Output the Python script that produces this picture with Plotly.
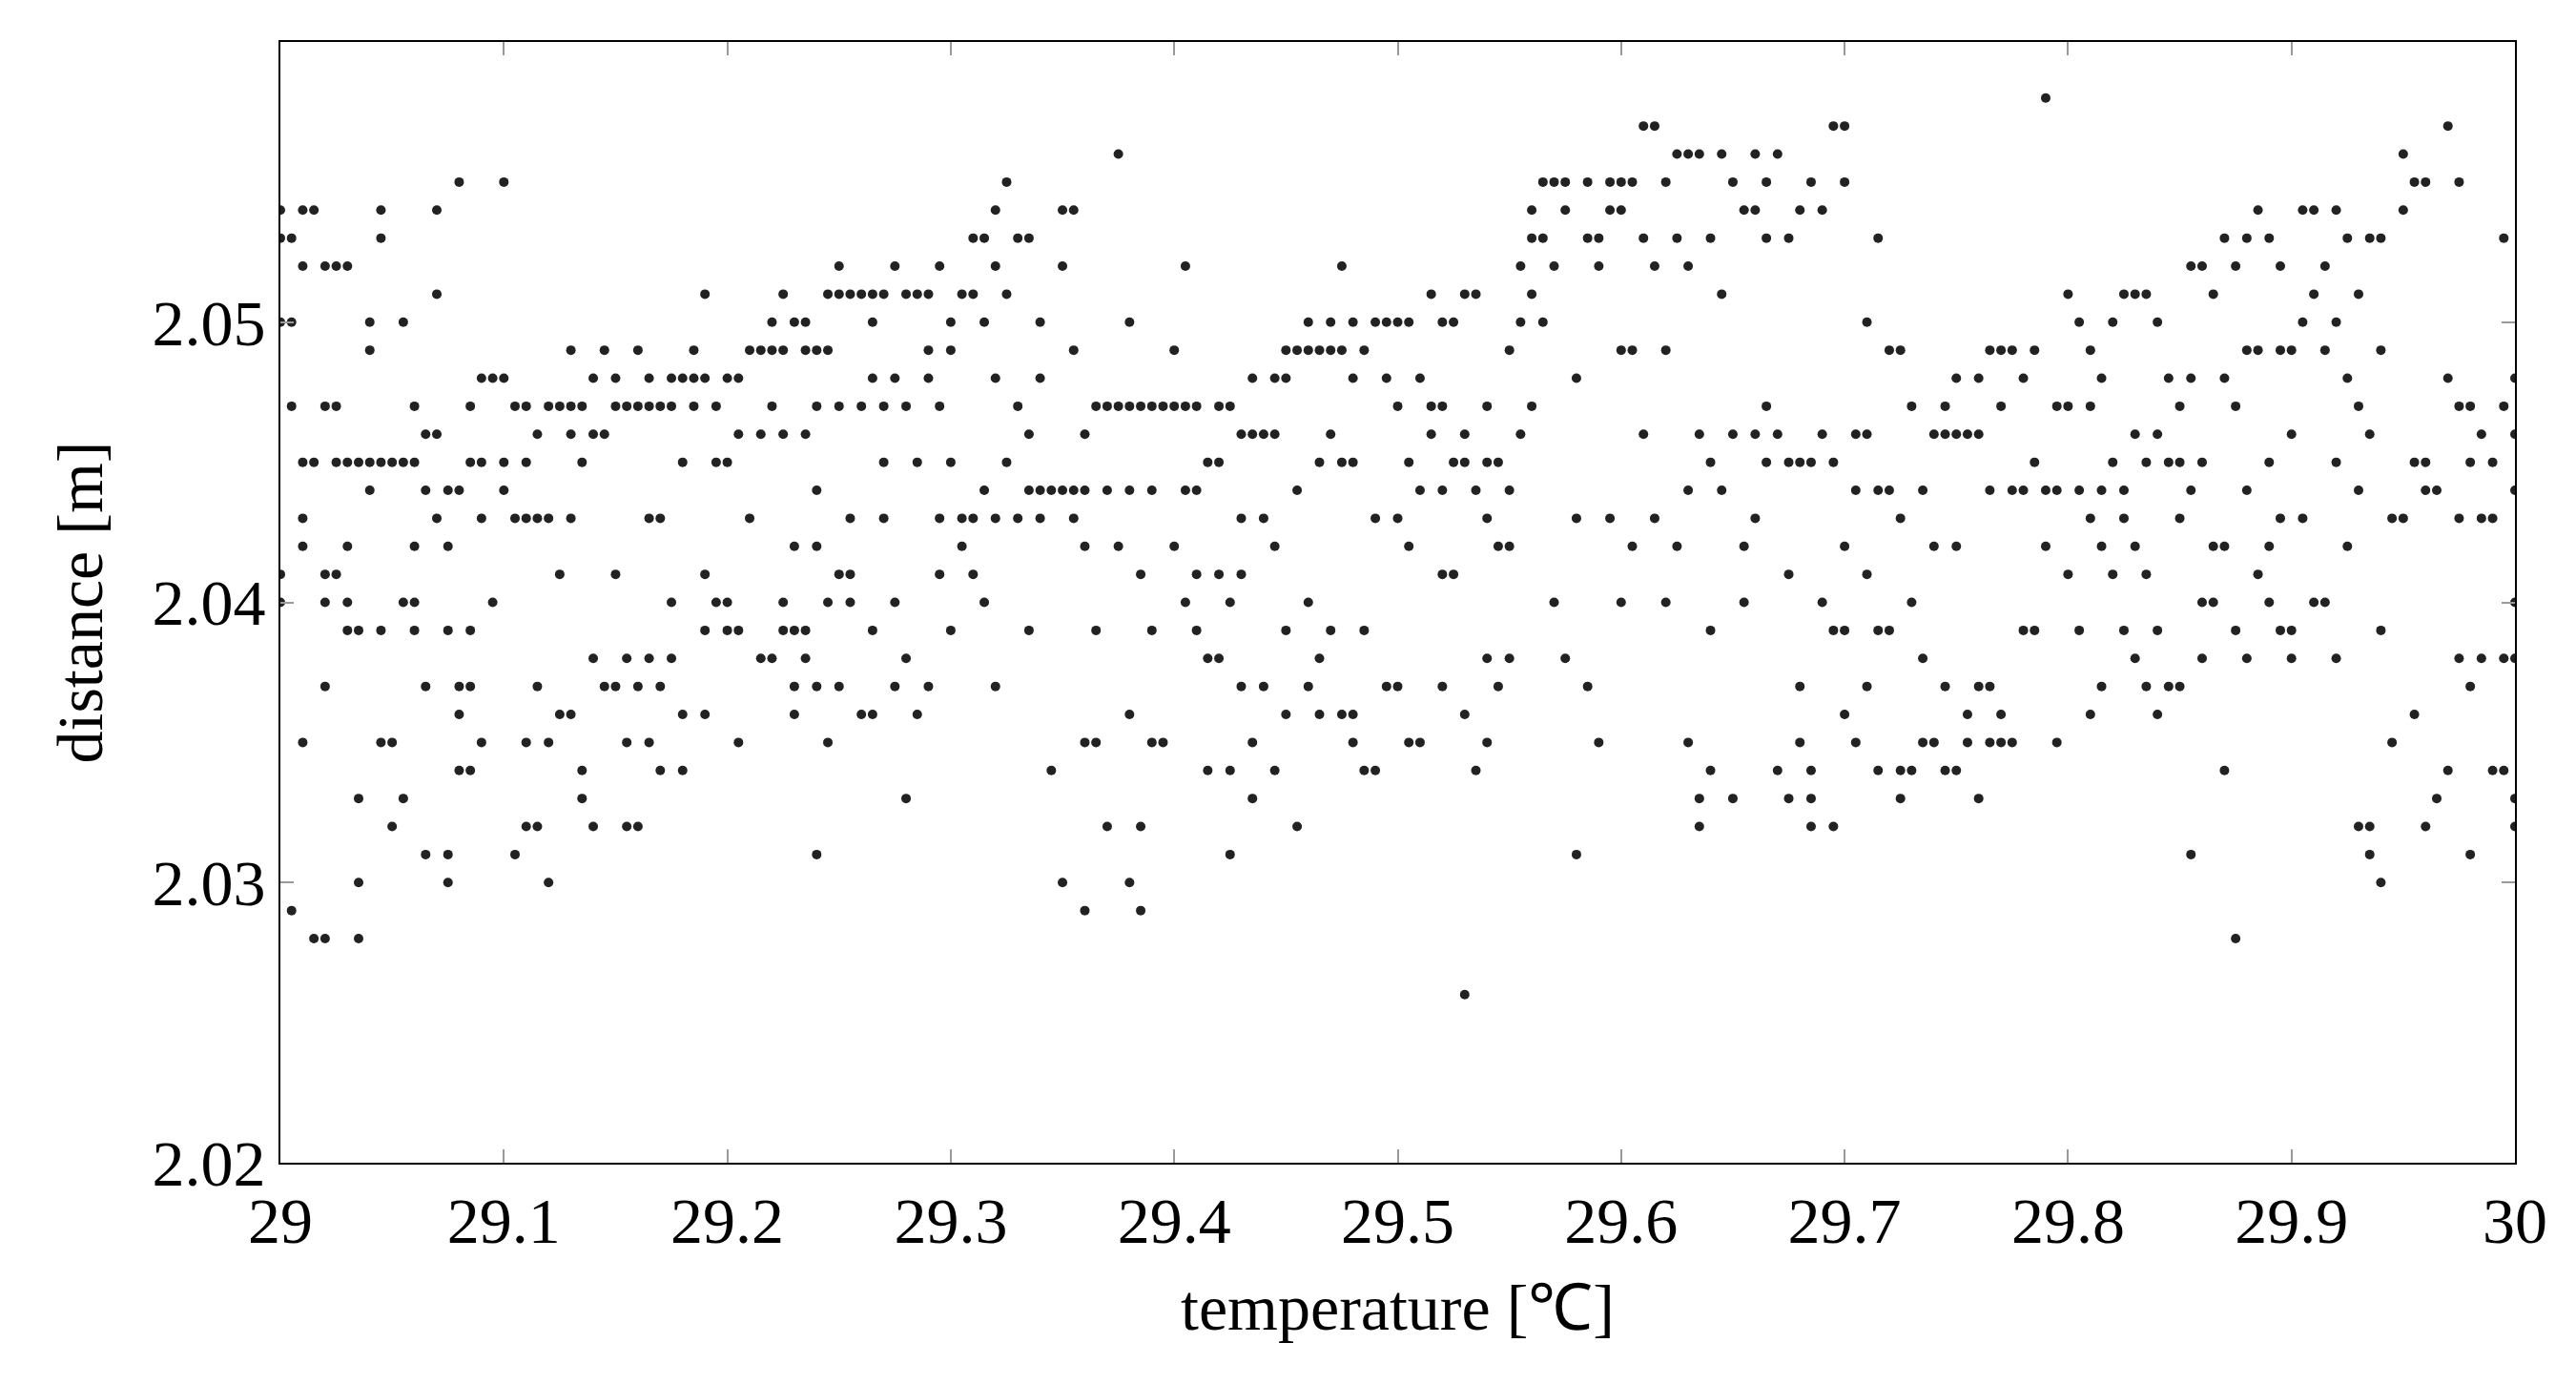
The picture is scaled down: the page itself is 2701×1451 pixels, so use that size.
import plotly.graph_objects as go

# temperature readings (degC); each has a group of distance readings (m)
temps = [29.000, 29.005, 29.010, 29.015, 29.020, 29.025, 29.030, 29.035, 29.040, 29.045,
         29.050, 29.055, 29.060, 29.065, 29.070, 29.075, 29.080, 29.085, 29.090, 29.095,
         29.100, 29.105, 29.110, 29.115, 29.120, 29.125, 29.130, 29.135, 29.140, 29.145,
         29.150, 29.155, 29.160, 29.165, 29.170, 29.175, 29.180, 29.185, 29.190, 29.195,
         29.200, 29.205, 29.210, 29.215, 29.220, 29.225, 29.230, 29.235, 29.240, 29.245,
         29.250, 29.255, 29.260, 29.265, 29.270, 29.275, 29.280, 29.285, 29.290, 29.295,
         29.300, 29.305, 29.310, 29.315, 29.320, 29.325, 29.330, 29.335, 29.340, 29.345,
         29.350, 29.355, 29.360, 29.365, 29.370, 29.375, 29.380, 29.385, 29.390, 29.395,
         29.400, 29.405, 29.410, 29.415, 29.420, 29.425, 29.430, 29.435, 29.440, 29.445,
         29.450, 29.455, 29.460, 29.465, 29.470, 29.475, 29.480, 29.485, 29.490, 29.495,
         29.500, 29.505, 29.510, 29.515, 29.520, 29.525, 29.530, 29.535, 29.540, 29.545,
         29.550, 29.555, 29.560, 29.565, 29.570, 29.575, 29.580, 29.585, 29.590, 29.595,
         29.600, 29.605, 29.610, 29.615, 29.620, 29.625, 29.630, 29.635, 29.640, 29.645,
         29.650, 29.655, 29.660, 29.665, 29.670, 29.675, 29.680, 29.685, 29.690, 29.695,
         29.700, 29.705, 29.710, 29.715, 29.720, 29.725, 29.730, 29.735, 29.740, 29.745,
         29.750, 29.755, 29.760, 29.765, 29.770, 29.775, 29.780, 29.785, 29.790, 29.795,
         29.800, 29.805, 29.810, 29.815, 29.820, 29.825, 29.830, 29.835, 29.840, 29.845,
         29.850, 29.855, 29.860, 29.865, 29.870, 29.875, 29.880, 29.885, 29.890, 29.895,
         29.900, 29.905, 29.910, 29.915, 29.920, 29.925, 29.930, 29.935, 29.940, 29.945,
         29.950, 29.955, 29.960, 29.965, 29.970, 29.975, 29.980, 29.985, 29.990, 29.995,
         30.000]

distances = [
    [2.054, 2.053, 2.050, 2.041, 2.040], [2.053, 2.050, 2.047, 2.029],
    [2.054, 2.052, 2.045, 2.043, 2.042, 2.035], [2.054, 2.045, 2.028],
    [2.052, 2.047, 2.041, 2.040, 2.037, 2.028], [2.052, 2.047, 2.045, 2.041],
    [2.052, 2.045, 2.042, 2.040, 2.039], [2.045, 2.039, 2.033, 2.030, 2.028],
    [2.050, 2.049, 2.044, 2.045], [2.053, 2.054, 2.045, 2.039, 2.035],
    [2.045, 2.032, 2.035], [2.050, 2.045, 2.040, 2.033],
    [2.047, 2.045, 2.040, 2.039, 2.042], [2.046, 2.044, 2.037, 2.031],
    [2.054, 2.051, 2.046, 2.043], [2.044, 2.042, 2.039, 2.030, 2.031],
    [2.055, 2.044, 2.037, 2.036, 2.034], [2.047, 2.045, 2.039, 2.037, 2.034],
    [2.048, 2.045, 2.043, 2.035], [2.048, 2.040],
    [2.055, 2.048, 2.045, 2.044], [2.047, 2.043, 2.031],
    [2.047, 2.045, 2.043, 2.035, 2.032], [2.046, 2.043, 2.037, 2.032],
    [2.047, 2.043, 2.035, 2.030], [2.047, 2.041, 2.036],
    [2.049, 2.047, 2.046, 2.043, 2.036], [2.047, 2.045, 2.034, 2.033],
    [2.048, 2.046, 2.038, 2.032], [2.049, 2.046, 2.037],
    [2.048, 2.047, 2.041, 2.037], [2.047, 2.038, 2.035, 2.032],
    [2.049, 2.047, 2.037, 2.032], [2.048, 2.047, 2.043, 2.038, 2.035],
    [2.047, 2.043, 2.037, 2.034], [2.048, 2.047, 2.040, 2.038],
    [2.048, 2.045, 2.036, 2.034], [2.049, 2.048, 2.047],
    [2.051, 2.048, 2.041, 2.039, 2.036], [2.047, 2.045, 2.040],
    [2.048, 2.045, 2.039, 2.040], [2.048, 2.046, 2.039, 2.035],
    [2.049, 2.043], [2.049, 2.046, 2.038],
    [2.050, 2.049, 2.047, 2.038], [2.051, 2.049, 2.046, 2.039, 2.040],
    [2.050, 2.042, 2.037, 2.036, 2.039], [2.050, 2.049, 2.046, 2.039, 2.038],
    [2.049, 2.047, 2.044, 2.037, 2.031, 2.042], [2.051, 2.049, 2.040, 2.035],
    [2.052, 2.051, 2.047, 2.041, 2.037], [2.051, 2.043, 2.041, 2.040],
    [2.051, 2.047, 2.036], [2.051, 2.050, 2.048, 2.036, 2.039],
    [2.051, 2.047, 2.045, 2.043], [2.052, 2.048, 2.040, 2.037],
    [2.051, 2.047, 2.038, 2.033], [2.051, 2.045, 2.036],
    [2.051, 2.049, 2.048, 2.037], [2.052, 2.047, 2.043, 2.041],
    [2.050, 2.049, 2.045, 2.039], [2.051, 2.043, 2.042],
    [2.053, 2.051, 2.043, 2.041], [2.053, 2.050, 2.044, 2.040],
    [2.054, 2.052, 2.048, 2.043, 2.037], [2.055, 2.051, 2.045],
    [2.053, 2.047, 2.043], [2.053, 2.046, 2.044, 2.039],
    [2.050, 2.048, 2.044, 2.043], [2.044, 2.034],
    [2.054, 2.052, 2.044, 2.030], [2.054, 2.049, 2.044, 2.043],
    [2.046, 2.044, 2.042, 2.029, 2.035], [2.047, 2.039, 2.035],
    [2.047, 2.044, 2.032], [2.056, 2.047, 2.042],
    [2.050, 2.047, 2.044, 2.036, 2.030], [2.047, 2.041, 2.029, 2.032],
    [2.047, 2.044, 2.039, 2.035], [2.047, 2.035],
    [2.049, 2.047, 2.042], [2.052, 2.047, 2.044, 2.040],
    [2.047, 2.044, 2.041, 2.039], [2.045, 2.038, 2.034],
    [2.047, 2.045, 2.041, 2.038], [2.047, 2.040, 2.034, 2.031],
    [2.046, 2.043, 2.041, 2.037], [2.048, 2.046, 2.033, 2.035],
    [2.046, 2.043, 2.037], [2.048, 2.046, 2.042, 2.034],
    [2.049, 2.048, 2.039, 2.036], [2.049, 2.044, 2.032],
    [2.050, 2.049, 2.040, 2.037], [2.049, 2.045, 2.038, 2.036],
    [2.050, 2.049, 2.046, 2.039], [2.052, 2.049, 2.045, 2.036],
    [2.050, 2.048, 2.045, 2.036, 2.035], [2.049, 2.039, 2.034],
    [2.050, 2.043, 2.034], [2.050, 2.048, 2.037],
    [2.050, 2.047, 2.043, 2.037], [2.050, 2.045, 2.042, 2.035],
    [2.048, 2.044, 2.035], [2.051, 2.047, 2.046],
    [2.050, 2.047, 2.044, 2.041, 2.037], [2.050, 2.045, 2.041],
    [2.051, 2.046, 2.045, 2.036, 2.026], [2.051, 2.044, 2.034],
    [2.047, 2.045, 2.043, 2.038, 2.035], [2.045, 2.042, 2.037],
    [2.049, 2.044, 2.042, 2.038], [2.052, 2.050, 2.046],
    [2.054, 2.053, 2.051, 2.047], [2.055, 2.053, 2.050],
    [2.055, 2.052, 2.040], [2.055, 2.054, 2.038],
    [2.048, 2.043, 2.031], [2.055, 2.053, 2.037],
    [2.053, 2.052, 2.035], [2.055, 2.054, 2.043],
    [2.055, 2.054, 2.049, 2.040], [2.055, 2.049, 2.042],
    [2.057, 2.053, 2.046], [2.057, 2.052, 2.043],
    [2.055, 2.049, 2.040], [2.056, 2.053, 2.042],
    [2.056, 2.052, 2.044, 2.035], [2.056, 2.046, 2.033, 2.032],
    [2.053, 2.045, 2.039, 2.034], [2.056, 2.051, 2.044],
    [2.055, 2.046, 2.033], [2.054, 2.042, 2.040],
    [2.056, 2.054, 2.046, 2.043], [2.055, 2.053, 2.047, 2.045],
    [2.056, 2.046, 2.034], [2.053, 2.045, 2.041, 2.033],
    [2.054, 2.045, 2.037, 2.035], [2.055, 2.045, 2.034, 2.033, 2.032],
    [2.054, 2.046, 2.040], [2.057, 2.045, 2.039, 2.032],
    [2.057, 2.055, 2.042, 2.039, 2.036], [2.046, 2.044, 2.035],
    [2.050, 2.046, 2.041, 2.037], [2.053, 2.044, 2.039, 2.034],
    [2.049, 2.044, 2.039], [2.049, 2.043, 2.034, 2.033],
    [2.047, 2.040, 2.034], [2.044, 2.038, 2.035],
    [2.046, 2.042, 2.035], [2.047, 2.046, 2.037, 2.034],
    [2.048, 2.046, 2.042, 2.034], [2.046, 2.036, 2.035],
    [2.048, 2.046, 2.037, 2.033], [2.049, 2.044, 2.037, 2.035],
    [2.049, 2.047, 2.036, 2.035], [2.049, 2.044, 2.035],
    [2.048, 2.044, 2.039], [2.049, 2.045, 2.039],
    [2.058, 2.044, 2.042], [2.047, 2.044, 2.035],
    [2.051, 2.047, 2.041], [2.050, 2.044, 2.039],
    [2.049, 2.047, 2.043, 2.036], [2.048, 2.044, 2.042, 2.037],
    [2.050, 2.045, 2.041], [2.051, 2.044, 2.043, 2.039],
    [2.051, 2.046, 2.042, 2.038], [2.051, 2.045, 2.041, 2.037],
    [2.050, 2.046, 2.039, 2.036], [2.048, 2.045, 2.037],
    [2.047, 2.045, 2.043, 2.037], [2.052, 2.048, 2.044, 2.031],
    [2.052, 2.045, 2.040, 2.038], [2.051, 2.042, 2.040],
    [2.053, 2.048, 2.042, 2.034], [2.052, 2.047, 2.039, 2.028],
    [2.053, 2.049, 2.044, 2.038], [2.054, 2.049, 2.041],
    [2.053, 2.045, 2.042, 2.040], [2.052, 2.049, 2.043, 2.039],
    [2.049, 2.046, 2.039, 2.038], [2.054, 2.050, 2.043],
    [2.054, 2.051, 2.040], [2.052, 2.049, 2.040],
    [2.054, 2.050, 2.045, 2.038], [2.053, 2.048, 2.042],
    [2.051, 2.047, 2.044, 2.032], [2.053, 2.046, 2.032, 2.031],
    [2.053, 2.049, 2.039, 2.030], [2.043, 2.035],
    [2.056, 2.054, 2.043], [2.055, 2.045, 2.036],
    [2.055, 2.045, 2.044, 2.032], [2.044, 2.033],
    [2.057, 2.048, 2.034], [2.055, 2.047, 2.043, 2.038],
    [2.047, 2.045, 2.037, 2.031], [2.046, 2.043, 2.038],
    [2.045, 2.043, 2.034], [2.053, 2.047, 2.038, 2.034],
    [2.048, 2.046, 2.044, 2.040, 2.038, 2.033, 2.032],
]

xs, ys = [], []
for t, group in zip(temps, distances):
    for d in group:
        xs.append(t)
        ys.append(d)

font = "Liberation Serif"

fig = go.Figure(go.Scatter(x=xs, y=ys, mode="markers",
                           marker=dict(size=10, color="#222222")))

axis = dict(showline=True, linecolor="black", linewidth=2, mirror="ticks",
            ticks="inside", ticklen=14, tickwidth=1.5, tickcolor="#999999",
            showgrid=False, zeroline=False,
            tickfont=dict(family=font, size=68, color="black"))

fig.update_xaxes(range=[29, 30], dtick=0.1, tickformat="~g",
                 title=dict(text="temperature [℃]", standoff=30,
                            font=dict(family=font, size=68, color="black")),
                 **axis)
fig.update_yaxes(range=[2.02, 2.06], dtick=0.01, tickformat=".2f",
                 title=dict(text="distance [m]", standoff=30,
                            font=dict(family=font, size=68, color="black")),
                 **axis)

fig.update_layout(width=2701, height=1451, plot_bgcolor="white", paper_bgcolor="white",
                  margin=dict(l=286, r=72, t=36, b=240), showlegend=False)

fig.write_html("out.html")
